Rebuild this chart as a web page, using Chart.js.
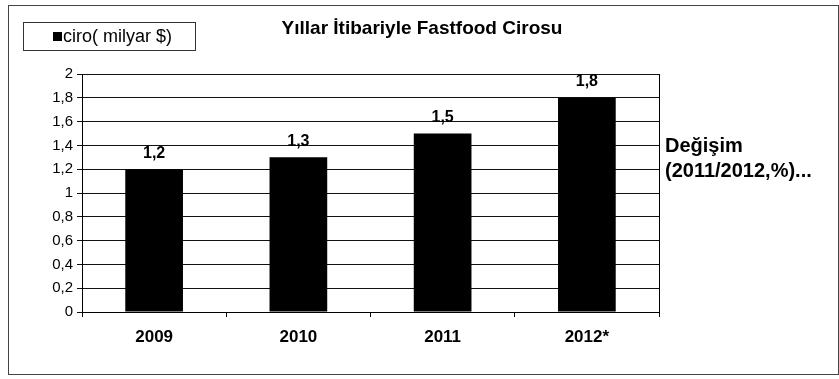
<!DOCTYPE html>
<html>
<head>
<meta charset="utf-8">
<script src="https://cdn.jsdelivr.net/npm/chart.js@4"></script>
<style>
    html, body { margin: 0; padding: 0; background: #fff; }
    #wrap { width: 839px; height: 379px; position: relative; }
</style>
</head>
<body>
<div id="wrap"><canvas id="ciroChart" width="839" height="379"></canvas></div>
<script>
const years = ["2009", "2010", "2011", "2012*"];
const ciro = [1.2, 1.3, 1.5, 1.8];
const seriesLabel = "ciro( milyar $)";
const chartTitle = "Yıllar İtibariyle Fastfood Cirosu";
const sideNote = ["Değişim", "(2011/2012,%)..."];

const FONT = "'Liberation Sans', Arial, sans-serif";
const fmt = (v) => String(Math.round(v * 10) / 10).replace(".", ",");

// frame, title, legend box, plot border, value labels and side note
const decorations = {
    id: "decorations",
    afterDraw(chart) {
        const ctx = chart.ctx;
        const area = chart.chartArea;
        ctx.save();

        ctx.strokeStyle = "#444";
        ctx.lineWidth = 1;
        ctx.strokeRect(8.5, 5.5, 830, 369);

        ctx.strokeStyle = "#000";
        ctx.beginPath();
        ctx.moveTo(Math.round(area.right) + 0.5, area.top);
        ctx.lineTo(Math.round(area.right) + 0.5, area.bottom);
        ctx.stroke();

        ctx.fillStyle = "#000";
        ctx.font = "bold 19px " + FONT;
        ctx.textAlign = "center";
        ctx.textBaseline = "middle";
        ctx.fillText(chartTitle, 422, 29);

        // legend
        ctx.strokeStyle = "#333";
        ctx.strokeRect(23.5, 22.5, 172, 28);
        ctx.fillRect(53, 32, 9, 9);
        ctx.font = "18px " + FONT;
        ctx.textAlign = "left";
        ctx.fillText(seriesLabel, 63, 37);

        // values on top of bars
        const meta = chart.getDatasetMeta(0);
        ctx.font = "bold 16px " + FONT;
        ctx.textAlign = "center";
        ctx.textBaseline = "bottom";
        meta.data.forEach((bar, i) => {
            ctx.fillText(fmt(ciro[i]), bar.x, bar.y - 8);
        });

        // note on the right
        ctx.font = "bold 20px " + FONT;
        ctx.textAlign = "left";
        ctx.textBaseline = "middle";
        ctx.fillText(sideNote[0], 665, 146);
        ctx.fillText(sideNote[1], 665, 171);

        ctx.restore();
    }
};

new Chart(document.getElementById("ciroChart"), {
    type: "bar",
    data: {
        labels: years,
        datasets: [{
            label: seriesLabel,
            data: ciro,
            backgroundColor: "#000",
            borderWidth: 0,
            categoryPercentage: 1,
            barPercentage: 0.4
        }]
    },
    options: {
        responsive: false,
        animation: false,
        devicePixelRatio: 1,
        layout: { padding: { left: 10, right: 180, top: 74, bottom: 20 } },
        plugins: {
            legend: { display: false },
            tooltip: { enabled: false },
            title: { display: false }
        },
        scales: {
            x: {
                grid: {
                    offset: true,
                    drawOnChartArea: false,
                    drawTicks: true,
                    tickLength: 5,
                    color: "#000"
                },
                border: { color: "#000", width: 1 },
                ticks: {
                    color: "#000",
                    padding: 10,
                    font: { family: FONT, size: 17, weight: "bold" }
                },
                afterFit: (s) => { s.height = 47; }
            },
            y: {
                min: 0,
                max: 2,
                grid: {
                    color: "#111",
                    lineWidth: 1,
                    drawTicks: true,
                    tickLength: 5
                },
                border: { color: "#000", width: 1 },
                ticks: {
                    stepSize: 0.2,
                    color: "#000",
                    padding: 4,
                    font: { family: FONT, size: 15 },
                    callback: (v) => fmt(v)
                },
                afterFit: (s) => { s.width = 72; }
            }
        }
    },
    plugins: [decorations]
});
</script>
</body>
</html>
